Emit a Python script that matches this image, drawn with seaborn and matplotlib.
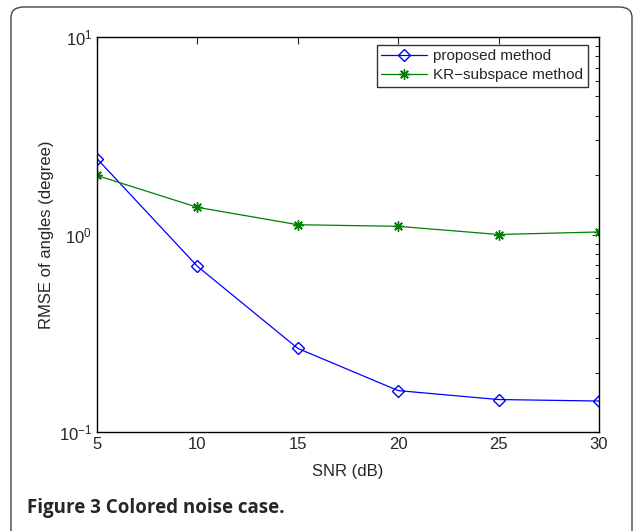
import numpy as np
import pandas as pd
import matplotlib
matplotlib.use("Agg")
import matplotlib.pyplot as plt
import seaborn as sns
from matplotlib.patches import FancyBboxPatch
from matplotlib.ticker import LogLocator, NullFormatter

snr = [5, 10, 15, 20, 25, 30]
proposed = [2.42, 0.69, 0.265, 0.162, 0.146, 0.1435]
kr_subspace = [1.99, 1.373, 1.121, 1.10, 1.0, 1.03]

df = pd.DataFrame({
    "SNR": snr * 2,
    "RMSE": proposed + kr_subspace,
    "method": ["proposed method"] * 6 + ["KR\u2212subspace method"] * 6,
})

sns.set_style("white")
plt.rcParams["font.family"] = ["Liberation Sans", "DejaVu Sans"]
plt.rcParams["mathtext.fontset"] = "custom"
plt.rcParams["mathtext.rm"] = "Liberation Sans"
plt.rcParams["mathtext.it"] = "Liberation Sans"

fig = plt.figure(figsize=(6.33, 5.31), dpi=100)
W, H = 633, 531

# rounded frame around the figure
frame = FancyBboxPatch((11 / W, -0.05), 621 / W, 1 - 7 / H + 0.05,
                       boxstyle="round,pad=0,rounding_size=0.02",
                       transform=fig.transFigure, fill=False,
                       edgecolor="#444444", linewidth=1.0)
fig.patches.append(frame)

ax = fig.add_axes([97 / W, 1 - 432 / H, 502 / W, 395 / H])

sns.lineplot(data=df[df["method"] == "proposed method"], x="SNR", y="RMSE",
             color="#0000ff", marker="D", markersize=6.5, markerfacecolor="none",
             markeredgecolor="#0000ff", markeredgewidth=1.0, linewidth=0.9,
             label="proposed method", ax=ax)
sns.lineplot(data=df[df["method"] != "proposed method"], x="SNR", y="RMSE",
             color="#008000", marker=(8, 2, 0), markersize=7.5,
             markeredgecolor="#008000", markeredgewidth=1.0, linewidth=0.9,
             label="KR\u2212subspace method", ax=ax)

ax.set_yscale("log")
ax.set_xlim(5, 30)
ax.set_ylim(0.1, 10)
ax.set_xticks(snr)
ax.yaxis.set_major_locator(LogLocator(base=10))
ax.yaxis.set_minor_locator(LogLocator(base=10, subs=np.arange(2, 10)))
ax.yaxis.set_minor_formatter(NullFormatter())
ax.tick_params(which="both", direction="in", top=True, right=True,
               labelsize=12, width=0.8)
ax.tick_params(which="major", length=5)
ax.tick_params(which="minor", length=3)
for s in ax.spines.values():
    s.set_linewidth(1.0)
    s.set_color("black")

ax.set_xlabel("SNR (dB)", fontsize=12, labelpad=9)
ax.set_ylabel("RMSE of angles (degree)", fontsize=12)
ax.yaxis.set_label_coords(-0.085, 0.5)

leg = ax.legend(loc="upper right", fontsize=11, frameon=True, fancybox=False,
                edgecolor="black", borderpad=0.3, handlelength=3.0,
                handletextpad=0.4, labelspacing=0.3, borderaxespad=0,
                bbox_to_anchor=(0.978, 0.98))
leg.get_frame().set_linewidth(1.0)

fig.text(27 / W, 1 - 508 / H, "Figure 3 Colored noise case.",
         family=["Open Sans", "DejaVu Sans"], weight="bold", fontsize=13.5,
         va="center", ha="left")

fig.savefig("out.png", dpi=100)
